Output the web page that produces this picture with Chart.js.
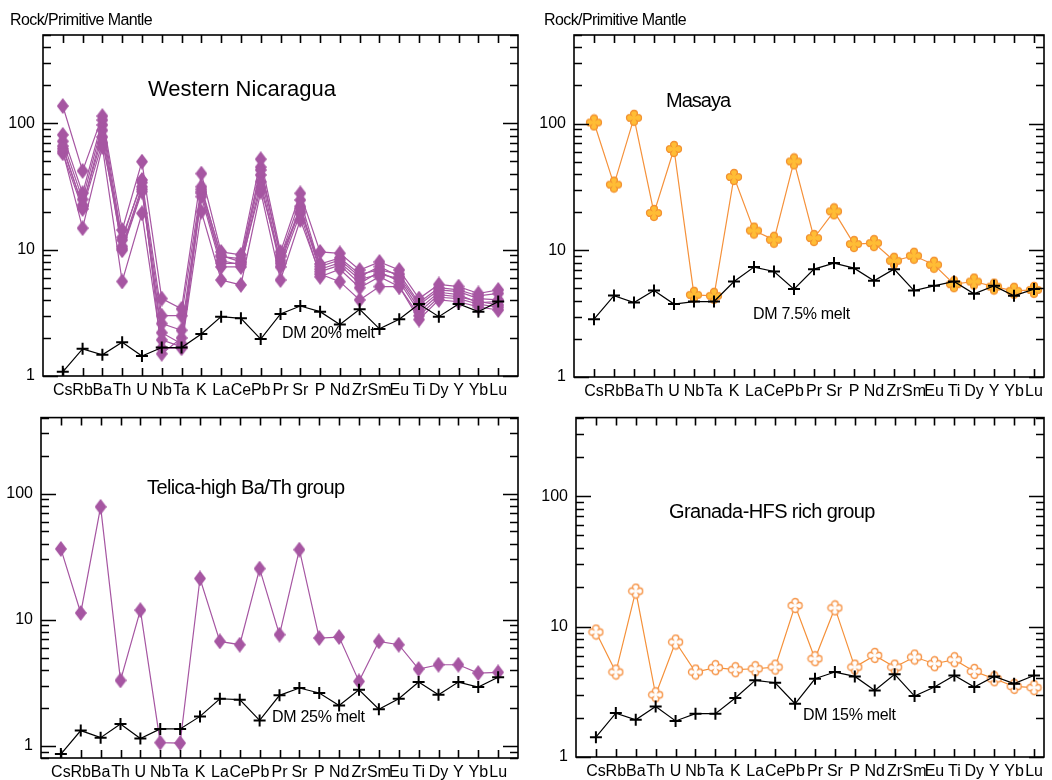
<!DOCTYPE html>
<html>
<head>
<meta charset="utf-8">
<script src="https://cdn.jsdelivr.net/npm/chart.js@4.4.1/dist/chart.umd.min.js"></script>
<style>
  html, body { margin: 0; padding: 0; background: #fff; }
  #wrap { position: relative; width: 1052px; height: 780px; overflow: hidden; }
  #wrap canvas { position: absolute; }
</style>
</head>
<body>
<div id="wrap">
  <canvas id="p1" width="526" height="400" style="left:0;top:0"></canvas>
  <canvas id="p2" width="526" height="400" style="left:526px;top:0"></canvas>
  <canvas id="p3" width="526" height="380" style="left:0;top:400px"></canvas>
  <canvas id="p4" width="526" height="380" style="left:526px;top:400px"></canvas>
</div>
<script>
// Trace elements, ordered for the spider diagram
const elements = ['Cs','Rb','Ba','Th','U','Nb','Ta','K','La','Ce','Pb','Pr','Sr','P','Nd','Zr','Sm','Eu','Ti','Dy','Y','Yb','Lu'];
const yTickLabels = [1, 10, 100];

// Western Nicaragua samples (rock / primitive mantle)
const nicA = [137, 42, 114, 14.3, 49.7, 4.1, 3.4, 40, 9.6, 9.1, 52, 9.6, 27.9, 9.6, 9.35, 6.9, 8.0, 6.9, 4.1, 5.3, 5.1, 4.5, 4.8];
const nicB = [81, 28, 106, 11.9, 35.6, 3.0, 3.0, 31.5, 8.8, 8.5, 42.7, 8.8, 24.7, 7.35, 8.3, 6.1, 7.35, 6.1, 3.65, 4.8, 4.65, 4.1, 4.0];
const nicC = [72, 25, 97, 10.6, 31.5, 2.6, 2.3, 28.8, 7.8, 7.8, 39, 7.8, 21.2, 6.7, 7.55, 5.4, 6.7, 5.6, 3.2, 4.4, 4.24, 3.9, 3.65];
const nicD = [66, 22, 88, 9.9, 28.8, 2.2, 1.8, 26.3, 7.3, 7.3, 34.5, 7.3, 19.4, 6.1, 7.0, 5.0, 6.1, 5.1, 2.8, 4.0, 3.87, 3.53, 3.33];
const nicE = [63, 22.5, 78, 10.2, 30, 1.93, 1.7, 28, 8.2, 7.6, 31, 8.2, 22, 7.0, 7.9, 5.8, 6.4, 5.9, 3.4, 4.6, 4.4, 3.8, 3.9];
const nicF = [60, 14.8, 65, 5.6, 19.4, 1.66, 1.66, 20, 5.75, 5.26, 28.8, 5.75, 17.2, 6.4, 5.58, 4.0, 5.1, 5.1, 3.0, 4.2, 4.1, 3.7, 3.5];
const nicG = [58, 21, 70, 12.5, 34, 1.5, 2.0, 30, 9.0, 8.0, 45, 9.0, 20, 7.7, 8.6, 6.4, 6.9, 6.4, 3.8, 5.0, 4.8, 4.3, 4.5];
const dm20 = [1.08, 1.64, 1.47, 1.85, 1.44, 1.68, 1.68, 2.15, 2.95, 2.86, 1.96, 3.10, 3.58, 3.23, 2.56, 3.37, 2.36, 2.81, 3.72, 2.95, 3.72, 3.23, 3.88];

// Masaya
const masaya = [102, 33, 111, 19.7, 63, 4.45, 4.37, 37.9, 14.3, 12.1, 50.3, 12.5, 20.3, 11.2, 11.4, 8.26, 9.05, 7.68, 5.4, 5.67, 5.17, 4.79, 4.87];
const dm75 = [2.86, 4.39, 3.87, 4.81, 3.76, 3.94, 3.94, 5.67, 7.37, 6.80, 4.94, 7.10, 7.92, 7.23, 5.74, 7.10, 4.81, 5.24, 5.67, 4.53, 5.24, 4.37, 4.94];

// Telica, high Ba/Th group
const telica = [36.4, 11.3, 78.4, 3.30, 11.9, 1.06, 1.05, 21.2, 6.73, 6.33, 25.4, 7.60, 35.9, 7.15, 7.28, 3.24, 6.73, 6.33, 4.06, 4.39, 4.39, 3.77, 3.82];
const dm25 = [0.86, 1.32, 1.16, 1.49, 1.14, 1.36, 1.36, 1.71, 2.36, 2.32, 1.59, 2.51, 2.87, 2.62, 2.09, 2.78, 1.95, 2.36, 3.20, 2.54, 3.20, 2.92, 3.49];

// Granada, HFS rich group
const granada = [9.08, 4.48, 18.7, 3.00, 7.61, 4.48, 4.84, 4.67, 4.75, 4.89, 14.5, 5.67, 13.9, 4.89, 6.01, 4.89, 5.84, 5.19, 5.57, 4.53, 3.98, 3.48, 3.40];
const dm15 = [1.42, 2.17, 1.93, 2.44, 1.89, 2.15, 2.15, 2.83, 3.87, 3.71, 2.56, 3.98, 4.48, 4.15, 3.24, 4.30, 2.93, 3.44, 4.22, 3.44, 4.15, 3.65, 4.22];

const FONT = '"Liberation Sans", Arial, sans-serif';
Chart.defaults.font.family = FONT;
Chart.defaults.color = '#000';

const PURPLE = '#a656a2';
const ORANGE = '#f5913a';

// ---- marker images ----
function diamond(w, h, fill) {
  const c = document.createElement('canvas');
  c.width = w; c.height = h;
  const g = c.getContext('2d');
  g.fillStyle = fill;
  g.beginPath();
  g.moveTo(w / 2, 0); g.lineTo(w, h / 2); g.lineTo(w / 2, h); g.lineTo(0, h / 2);
  g.closePath();
  g.fill();
  return c;
}

function clover(size, fill, stroke, lw) {
  const n = size + 3;
  const c = document.createElement('canvas');
  c.width = n; c.height = n;
  const g = c.getContext('2d');
  const cx = n / 2, cy = n / 2, r = size / 2;
  const a = r * 0.46, d = r - a, k = a * 0.8;
  g.beginPath();
  for (let i = 0; i < 4; i++) {
    const t = i * Math.PI / 2;
    g.arc(cx + d * Math.cos(t), cy + d * Math.sin(t), a, t - Math.PI / 2, t + Math.PI / 2);
    const tc = t + Math.PI / 4;
    g.lineTo(cx + k * Math.SQRT2 * Math.cos(tc), cy + k * Math.SQRT2 * Math.sin(tc));
  }
  g.closePath();
  g.fillStyle = fill;
  g.fill();
  g.lineWidth = lw;
  g.strokeStyle = stroke;
  g.stroke();
  return c;
}

const diamondMark = diamond(12, 16, PURPLE);
const cloverFilled = clover(15, '#ffbd35', '#f39232', 1.3);
const cloverOpen = clover(14, '#ffffff', '#f6964a', 1.4);

// ---- plugins: box frame with inward ticks, and free text ----
const frameTicks = {
  id: 'frameTicks',
  afterDraw(chart) {
    const { ctx, chartArea: a } = chart;
    const x = chart.scales.x, y = chart.scales.y;
    ctx.save();
    ctx.strokeStyle = '#000';
    ctx.lineWidth = 1.6;
    ctx.strokeRect(a.left, a.top, a.right - a.left, a.bottom - a.top);
    ctx.beginPath();
    for (let i = 0; i < elements.length; i++) {
      const px = Math.round(x.getPixelForValue(i)) + 0.5;
      ctx.moveTo(px, a.top); ctx.lineTo(px, a.top + 8);
      ctx.moveTo(px, a.bottom); ctx.lineTo(px, a.bottom - 8);
    }
    const e0 = Math.floor(Math.log10(y.min)), e1 = Math.ceil(Math.log10(y.max));
    for (let e = e0; e <= e1; e++) {
      for (let m = 1; m <= 9; m++) {
        const v = m * Math.pow(10, e);
        if (v < y.min * 0.999 || v > y.max * 1.001) continue;
        const py = Math.round(y.getPixelForValue(v)) + 0.5;
        const len = m === 1 ? 15 : 8;
        ctx.moveTo(a.left, py); ctx.lineTo(a.left + len, py);
        ctx.moveTo(a.right, py); ctx.lineTo(a.right - len, py);
      }
    }
    ctx.stroke();
    ctx.restore();
  }
};

const panelText = {
  id: 'panelText',
  afterDraw(chart, args, opts) {
    const ctx = chart.ctx;
    ctx.save();
    ctx.fillStyle = '#000';
    ctx.textBaseline = 'middle';
    ctx.textAlign = 'left';
    for (const t of (opts.items || [])) {
      ctx.font = t.size + 'px ' + FONT;
      ctx.letterSpacing = (t.ls || 0) + 'px';
      ctx.fillText(t.text, t.x, t.y);
    }
    ctx.restore();
  }
};

const pts = arr => arr.map((v, i) => ({ x: i, y: v }));

function dmSet(arr) {
  return {
    data: pts(arr), borderColor: '#000', borderWidth: 1.2,
    pointStyle: 'cross', pointRadius: 6, pointBorderWidth: 2,
    pointBorderColor: '#000', fill: false
  };
}
function sampleSet(arr, color, mark) {
  return {
    data: pts(arr), borderColor: color, borderWidth: 1.2,
    pointStyle: mark, pointRadius: 6, fill: false
  };
}

function makePanel(id, p) {
  new Chart(document.getElementById(id), {
    type: 'line',
    data: { datasets: p.datasets },
    plugins: [frameTicks, panelText],
    options: {
      responsive: false,
      animation: false,
      devicePixelRatio: 1,
      events: [],
      layout: { padding: { top: p.top, right: p.right, left: 0, bottom: 0 } },
      plugins: {
        legend: { display: false },
        tooltip: { enabled: false },
        panelText: { items: p.texts }
      },
      scales: {
        x: {
          type: 'linear', min: -1, max: p.xMax,
          afterFit(s) { s.height = p.bottomH; },
          grid: { display: false, drawTicks: false },
          border: { display: false },
          ticks: {
            stepSize: 1, includeBounds: false, autoSkip: false,
            maxRotation: 0, minRotation: 0,
            padding: 5, font: { size: 16 },
            callback: v => (Number.isInteger(v) && v >= 0 && v < elements.length) ? elements[v] : ''
          }
        },
        y: {
          type: 'logarithmic', min: p.yMin, max: p.yMax,
          afterFit(s) { s.width = p.axisW; },
          grid: { display: false, drawTicks: false },
          border: { display: false },
          ticks: {
            autoSkip: false, padding: 8, font: { size: 16 },
            callback: v => {
              const hit = yTickLabels.find(t => Math.abs(t - v) < 1e-6 * t);
              return hit !== undefined ? String(hit) : '';
            }
          }
        }
      }
    }
  });
}

const axisTitle = (x) => ({ text: 'Rock/Primitive Mantle', x: x, y: 21, size: 16, ls: -0.6 });

makePanel('p1', {
  top: 35, right: 2, axisW: 43, bottomH: 24, yMin: 1, yMax: 500, xMax: 23,
  datasets: [dmSet(dm20),
    sampleSet(nicA, PURPLE, diamondMark), sampleSet(nicB, PURPLE, diamondMark),
    sampleSet(nicC, PURPLE, diamondMark), sampleSet(nicD, PURPLE, diamondMark),
    sampleSet(nicE, PURPLE, diamondMark), sampleSet(nicF, PURPLE, diamondMark),
    sampleSet(nicG, PURPLE, diamondMark)],
  texts: [axisTitle(10),
    { text: 'Western Nicaragua', x: 148, y: 90, size: 22, ls: 0 },
    { text: 'DM 20% melt', x: 282, y: 334, size: 16, ls: -0.3 }]
});

makePanel('p2', {
  top: 35, right: 4, axisW: 48, bottomH: 23, yMin: 1, yMax: 500, xMax: 22.5,
  datasets: [dmSet(dm75), sampleSet(masaya, ORANGE, cloverFilled)],
  texts: [axisTitle(18),
    { text: 'Masaya', x: 140, y: 101, size: 20, ls: -1 },
    { text: 'DM 7.5% melt', x: 227, y: 315, size: 16, ls: -0.3 }]
});

makePanel('p3', {
  top: 17, right: 5, axisW: 41, bottomH: 22, yMin: 0.8, yMax: 400, xMax: 23,
  datasets: [dmSet(dm25), sampleSet(telica, PURPLE, diamondMark)],
  texts: [{ text: 'Telica-high Ba/Th group', x: 147, y: 88, size: 20, ls: -0.6 },
    { text: 'DM 25% melt', x: 272, y: 318, size: 16, ls: -0.3 }]
});

makePanel('p4', {
  top: 16, right: 4, axisW: 50, bottomH: 23, yMin: 1, yMax: 400, xMax: 22.5,
  datasets: [dmSet(dm15), sampleSet(granada, ORANGE, cloverOpen)],
  texts: [{ text: 'Granada-HFS rich group', x: 143, y: 112, size: 20, ls: -0.6 },
    { text: 'DM 15% melt', x: 277, y: 316, size: 16, ls: -0.3 }]
});
</script>
</body>
</html>
